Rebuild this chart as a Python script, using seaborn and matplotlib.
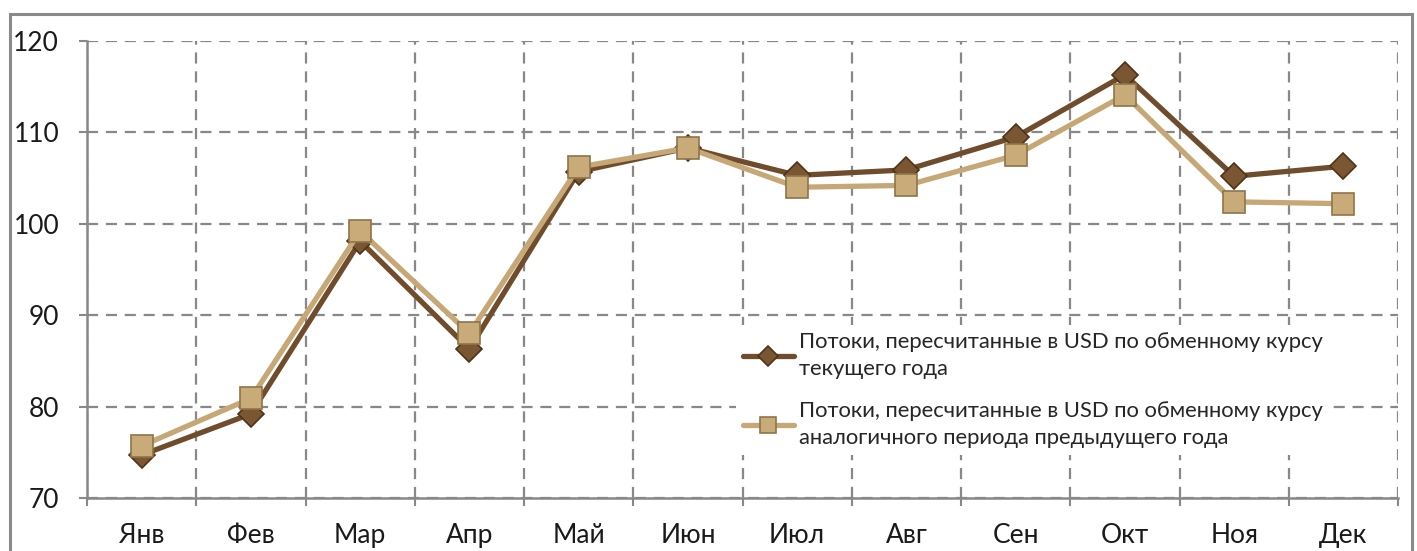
import pandas as pd
import matplotlib.pyplot as plt
import matplotlib.patches as mpatches
import seaborn as sns
import numpy as np

# Data
months = ['Янв', 'Фев', 'Мар', 'Апр', 'Май', 'Июн',
          'Июл', 'Авг', 'Сен', 'Окт', 'Ноя', 'Дек']
current_rate = [74.7, 79.2, 98.1, 86.3, 105.7, 108.3,
                105.3, 105.9, 109.5, 116.3, 105.2, 106.3]
previous_rate = [75.7, 80.9, 99.2, 88.0, 106.2, 108.3,
                 104.0, 104.2, 107.5, 114.1, 102.4, 102.2]
label_current = 'Потоки, пересчитанные в USD по обменному курсу\nтекущего года'
label_previous = 'Потоки, пересчитанные в USD по обменному курсу\nаналогичного периода предыдущего года'
y_ticks = [70, 80, 90, 100, 110, 120]

sns.set_theme(style='white')
plt.rcParams['font.family'] = ['Lato', 'DejaVu Sans']

df = pd.DataFrame({'Месяц': np.arange(len(months)),
                   'cur': current_rate, 'prev': previous_rate})

fig = plt.figure(figsize=(14.17, 5.51), dpi=100)
ax = fig.add_axes([0.0614, 0.0962, 0.9252, 0.8294])

dark = '#6e4c2c'
light = '#c6a877'

sns.lineplot(x='Месяц', y='cur', data=df, ax=ax, color=dark, linewidth=3.8,
             marker='D', markersize=13, markeredgecolor='#4e3318',
             markerfacecolor='#7a5632', markeredgewidth=1.2, label=label_current)
sns.lineplot(x='Месяц', y='prev', data=df, ax=ax, color=light, linewidth=3.8,
             marker='s', markersize=16, markeredgecolor='#8e7448',
             markerfacecolor='#c9ab7a', markeredgewidth=1.2, label=label_previous)

# Axes limits and grid
ax.set_xlim(-0.5, len(months) - 0.5)
ax.set_ylim(70, 120)
ax.set_yticks(y_ticks)
ax.set_xticks(np.arange(len(months)))
ax.set_xticklabels(months)
ax.set_xticks(np.arange(-0.5, len(months)), minor=True)
ax.set_xlabel('')
ax.set_ylabel('')

grid_kw = dict(color='#888888', linestyle=(0, (5, 3.5)), linewidth=1.6)
ax.yaxis.grid(True, **grid_kw)
ax.xaxis.grid(True, which='minor', **grid_kw)
ax.xaxis.grid(False, which='major')
ax.set_axisbelow(True)

for side in ['top', 'right']:
    ax.spines[side].set_visible(False)
for side in ['left', 'bottom']:
    ax.spines[side].set_color('#888888')
    ax.spines[side].set_linewidth(1.8)

ax.tick_params(axis='y', which='major', left=True, length=6, width=1.5,
               color='#888888', labelsize=19, pad=14, labelcolor='#1a1a1a')
ax.tick_params(axis='x', which='major', bottom=False, labelsize=19, pad=12,
               labelcolor='#1a1a1a')
ax.tick_params(axis='x', which='minor', bottom=True, length=6, width=1.5,
               color='#888888')

# Legend
leg = ax.legend(loc='upper left', bbox_to_anchor=(0.512, 0.43),
                bbox_transform=fig.transFigure, fontsize=15.8,
                frameon=True, facecolor='white', edgecolor='white',
                framealpha=1, fancybox=False, handlelength=2.3,
                handletextpad=0.25, labelspacing=1.0, borderpad=0.3,
                markerscale=0.75)
leg.get_frame().set_linewidth(0)
for t in leg.get_texts():
    t.set_linespacing(1.45)

# Outer frame
fig.patches.append(mpatches.Rectangle((10 / 1417, -0.1), 1402 / 1417, 1.1 - 14 / 551,
                                      transform=fig.transFigure, fill=False,
                                      edgecolor='#8a8a8a', linewidth=2.2))

plt.savefig('out.png', dpi=100)
